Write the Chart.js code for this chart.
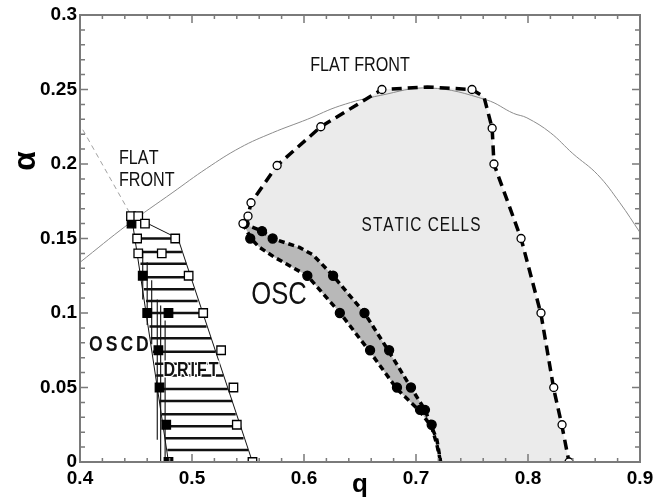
<!DOCTYPE html>
<html>
<head>
<meta charset="utf-8"/>
<title>q - alpha diagram</title>
<style>
    html, body { margin: 0; padding: 0; background: #fff; }
    #chart { display: block; }
</style>
<script src="https://cdn.jsdelivr.net/npm/chart.js@4.4.1/dist/chart.umd.min.js"></script>
</head>
<body>
<canvas id="chart" width="669" height="498"></canvas>
<script>
    // axis ticks
    const xTicks = [0.4, 0.5, 0.6, 0.7, 0.8, 0.9];
    const yTicks = [0, 0.05, 0.1, 0.15, 0.2, 0.25, 0.3];

    // thin curve: flat front limit
    const frontQ = [0.400, 0.442, 0.483, 0.513, 0.543, 0.572, 0.603, 0.632, 0.668, 0.712, 0.763, 0.787, 0.799, 0.820, 0.840, 0.862, 0.882, 0.900];
    const frontA = [0.134, 0.159, 0.181, 0.197, 0.211, 0.221, 0.230, 0.239, 0.246, 0.251, 0.243, 0.234, 0.231, 0.221, 0.207, 0.193, 0.174, 0.154];

    // thin dashed line, upper left
    const leftDashQ = [0.4025, 0.446];
    const leftDashA = [0.223, 0.165];

    // static cells boundary (thick dashed)
    const staticQ = [0.5455, 0.550, 0.5527, 0.576, 0.615, 0.6696, 0.710, 0.750, 0.7607, 0.768, 0.7696, 0.7938, 0.8116, 0.823, 0.8304, 0.8366];
    const staticA = [0.160, 0.165, 0.174, 0.199, 0.225, 0.250, 0.2517, 0.250, 0.245, 0.224, 0.200, 0.150, 0.0993, 0.049, 0.024, 0.0];

    // open circles
    const circleQ = [0.5455, 0.550, 0.5527, 0.576, 0.615, 0.6696, 0.750, 0.768, 0.7696, 0.7938, 0.8116, 0.823, 0.8304, 0.8366];
    const circleA = [0.160, 0.165, 0.174, 0.199, 0.225, 0.250, 0.250, 0.224, 0.200, 0.150, 0.100, 0.050, 0.025, 0.0];

    // OSC band edges
    const oscUpQ = [0.5455, 0.5625, 0.572, 0.596, 0.608, 0.626, 0.654, 0.676, 0.6955, 0.708, 0.7187, 0.722];
    const oscUpA = [0.160, 0.155, 0.150, 0.144, 0.139, 0.125, 0.100, 0.074, 0.050, 0.035, 0.0148, 0.0];
    const oscLoQ = [0.5455, 0.5527, 0.5598, 0.5732, 0.603, 0.633, 0.659, 0.683, 0.7036, 0.714, 0.7187, 0.722];
    const oscLoA = [0.160, 0.150, 0.1443, 0.1376, 0.125, 0.0993, 0.0738, 0.049, 0.034, 0.0235, 0.0114, 0.0];

    // filled circles
    const dotQ = [0.547, 0.552, 0.5625, 0.572, 0.603, 0.626, 0.632, 0.654, 0.659, 0.676, 0.683, 0.6955, 0.7036, 0.708, 0.714];
    const dotA = [0.160, 0.150, 0.155, 0.150, 0.125, 0.125, 0.100, 0.100, 0.075, 0.075, 0.050, 0.050, 0.035, 0.035, 0.025];

    // squares
    const sqOpenQ = [0.4455, 0.452, 0.458, 0.485, 0.451, 0.473, 0.452, 0.497, 0.510, 0.526, 0.537, 0.540, 0.554];
    const sqOpenA = [0.165, 0.165, 0.160, 0.150, 0.150, 0.140, 0.140, 0.125, 0.100, 0.075, 0.050, 0.025, 0.0];
    const sqFillQ = [0.446, 0.456, 0.460, 0.479, 0.470, 0.471, 0.477, 0.479];
    const sqFillA = [0.160, 0.125, 0.100, 0.100, 0.075, 0.050, 0.025, 0.0];

    // drift region: horizontal hatch rows
    const hatchA = [0.150, 0.141, 0.133, 0.124, 0.116, 0.108, 0.100, 0.091, 0.083, 0.074, 0.066, 0.058, 0.049, 0.041, 0.032, 0.024, 0.016, 0.008];
    const hatchL = [0.451, 0.453, 0.454, 0.455, 0.457, 0.459, 0.460, 0.462, 0.463, 0.465, 0.467, 0.468, 0.470, 0.471, 0.473, 0.474, 0.476, 0.478];
    const hatchR = [0.4875, 0.491, 0.495, 0.498, 0.502, 0.505, 0.509, 0.513, 0.517, 0.521, 0.524, 0.528, 0.532, 0.536, 0.539, 0.543, 0.546, 0.550];

    // OSCD band: vertical hatch
    const vHatchQ = [0.456, 0.460, 0.464, 0.469, 0.472, 0.476];
    const vHatchTop = [0.142, 0.134, 0.122, 0.109, 0.105, 0.095];
    const vHatchBot = [0.109, 0.092, 0.079, 0.015, 0.0, 0.0];

    // drift region borders
    const driftLeftQ = [0.446, 0.479];
    const driftLeftA = [0.165, 0.0];
    const driftRightQ = [0.458, 0.4875, 0.554];
    const driftRightA = [0.161, 0.150, 0.0];

    const notes = [
        { text: 'FLAT FRONT', q: 0.650, a: 0.2664, font: '21px "Liberation Sans"', sx: 0.77, sp: 0, align: 'center' },
        { text: 'FLAT', q: 0.4348, a: 0.2040, font: '21px "Liberation Sans"', sx: 0.77, sp: 0, align: 'left' },
        { text: 'FRONT', q: 0.4348, a: 0.1893, font: '21px "Liberation Sans"', sx: 0.77, sp: 0, align: 'left' },
        { text: 'STATIC CELLS', q: 0.7045, a: 0.1584, font: '20px "Liberation Sans"', sx: 0.77, sp: 1, align: 'center' },
        { text: 'OSC', q: 0.5777, a: 0.1120, font: '32px "Liberation Sans"', sx: 0.8, sp: 0, align: 'center' },
        { text: 'OSCD', q: 0.4080, a: 0.0789, font: 'bold 22px "Liberation Sans"', sx: 0.8, sp: 3, align: 'left' },
        { text: 'DRIFT', q: 0.4991, a: 0.0614, font: 'bold 20px "Liberation Sans"', sx: 0.8, sp: 2, align: 'center', halo: true },
    ];

    const pts = (qs, as) => qs.map((q, i) => ({ x: q, y: as[i] }));

    const staticFill = pts(staticQ, staticA).concat(pts(oscUpQ, oscUpA).reverse());
    const oscFill = pts(oscUpQ, oscUpA).concat(pts(oscLoQ, oscLoA).reverse());

    const hatchPts = [];
    hatchA.forEach((a, i) => {
        hatchPts.push({ x: hatchL[i], y: a }, { x: hatchR[i], y: a }, { x: null, y: null });
    });
    const vHatchPts = [];
    vHatchQ.forEach((q, i) => {
        vHatchPts.push({ x: q, y: vHatchTop[i] }, { x: q, y: vHatchBot[i] }, { x: null, y: null });
    });

    function lineSet(data, color, width, dash, order) {
        return {
            data: data, showLine: true, borderColor: color, borderWidth: width,
            borderDash: dash, pointRadius: 0, fill: false, order: order, tension: 0,
        };
    }

    function markerSet(data, style, radius, bg, order) {
        return {
            data: data, showLine: false, pointStyle: style, pointRadius: radius,
            pointBackgroundColor: bg, pointBorderColor: '#000', pointBorderWidth: 1.3, order: order,
        };
    }

    const datasets = [
        { data: staticFill, showLine: true, fill: 'shape', backgroundColor: '#ebebeb', borderWidth: 0, pointRadius: 0, order: 20 },
        { data: oscFill, showLine: true, fill: 'shape', backgroundColor: '#b8b8b8', borderWidth: 0, pointRadius: 0, order: 19 },
        lineSet(hatchPts, '#111', 2.5, [], 10),
        lineSet(vHatchPts, '#222', 1.2, [], 10),
        Object.assign(lineSet(pts(frontQ, frontA), '#8c8c8c', 1, [], 9), { tension: 0.4 }),
        lineSet(pts(leftDashQ, leftDashA), '#a0a0a0', 1, [5, 4], 9),
        lineSet(pts(driftLeftQ, driftLeftA), '#111', 1, [], 8),
        lineSet(pts(driftRightQ, driftRightA), '#111', 1, [], 8),
        lineSet(pts(staticQ, staticA), '#000', 3.5, [10, 6], 5),
        lineSet(pts(oscUpQ, oscUpA), '#000', 3.5, [6, 4], 5),
        lineSet(pts(oscLoQ, oscLoA), '#000', 3.5, [6, 4], 5),
        markerSet(pts(circleQ, circleA), 'circle', 4, '#fff', 1),
        markerSet(pts(dotQ, dotA), 'circle', 4.5, '#000', 1),
        markerSet(pts(sqOpenQ, sqOpenA), 'rect', 6, '#fff', 1),
        markerSet(pts(sqFillQ, sqFillA), 'rect', 6, '#000', 1),
    ];

    function drawNote(ctx, n, x, y) {
        ctx.save();
        ctx.font = n.font;
        ctx.textBaseline = 'middle';
        ctx.textAlign = 'left';
        ctx.fillStyle = '#111';
        ctx.strokeStyle = '#fff';
        ctx.lineWidth = 3;
        ctx.lineJoin = 'round';
        const chars = [...n.text];
        const widths = chars.map(c => ctx.measureText(c).width * n.sx);
        const total = widths.reduce((s, w) => s + w, 0) + n.sp * (chars.length - 1);
        let cx = n.align === 'left' ? x : x - total / 2;
        chars.forEach((c, i) => {
            ctx.save();
            ctx.translate(cx, y);
            ctx.scale(n.sx, 1);
            if (n.halo) ctx.strokeText(c, 0, 0);
            ctx.fillText(c, 0, 0);
            ctx.restore();
            cx += widths[i] + n.sp;
        });
        ctx.restore();
    }

    const framePlugin = {
        id: 'frame',
        afterDatasetsDraw(chart) {
            const { ctx, chartArea: a, scales: { x, y } } = chart;
            ctx.save();
            ctx.strokeStyle = '#7a7a7a';
            ctx.lineWidth = 1.5;
            ctx.beginPath();
            for (let i = 0; i <= 25; i++) {
                const px = x.getPixelForValue(0.4 + i * 0.02);
                const len = i % 5 === 0 ? 8 : 4;
                ctx.moveTo(px, a.bottom); ctx.lineTo(px, a.bottom - len);
                ctx.moveTo(px, a.top); ctx.lineTo(px, a.top + len);
            }
            for (let i = 0; i <= 30; i++) {
                const py = y.getPixelForValue(i * 0.01);
                const len = i % 5 === 0 ? 8 : 5;
                ctx.moveTo(a.left, py); ctx.lineTo(a.left + len, py);
                ctx.moveTo(a.right, py); ctx.lineTo(a.right - len, py);
            }
            ctx.stroke();
            ctx.lineWidth = 2;
            ctx.strokeRect(a.left, a.top, a.right - a.left, a.bottom - a.top);
            ctx.restore();
        },
        afterDraw(chart) {
            const { ctx, scales: { x, y } } = chart;
            notes.forEach(n => drawNote(ctx, n, x.getPixelForValue(n.q), y.getPixelForValue(n.a)));
            // y axis title
            ctx.save();
            ctx.translate(26, 161);
            ctx.rotate(-Math.PI / 2);
            ctx.font = 'bold 32px "Liberation Sans"';
            ctx.textAlign = 'center';
            ctx.textBaseline = 'middle';
            ctx.fillStyle = '#000';
            ctx.fillText('α', 0, 0);
            ctx.restore();
        }
    };

    const tickFont = { family: '"Liberation Sans"', size: 19, weight: 'bold' };

    new Chart(document.getElementById('chart'), {
        type: 'scatter',
        data: { datasets: datasets },
        options: {
            responsive: false,
            animation: false,
            layout: { padding: { top: 15, right: 29, left: 0, bottom: 0 } },
            plugins: { legend: { display: false }, tooltip: { enabled: false } },
            scales: {
                x: {
                    type: 'linear', min: 0.4, max: 0.9,
                    grid: { display: false, drawTicks: false },
                    border: { display: false },
                    afterBuildTicks: s => { s.ticks = xTicks.map(v => ({ value: v })); },
                    afterFit: s => { s.height = 36; },
                    ticks: { font: tickFont, color: '#000', padding: 5, maxRotation: 0, callback: v => String(v) },
                    title: { display: true, text: 'q', color: '#000', padding: 0, font: { family: '"Liberation Sans"', size: 26, weight: 'bold', lineHeight: 1 } },
                },
                y: {
                    type: 'linear', min: 0, max: 0.3,
                    grid: { display: false, drawTicks: false },
                    border: { display: false },
                    afterBuildTicks: s => { s.ticks = yTicks.map(v => ({ value: v })); },
                    afterFit: s => { s.width = 80; },
                    ticks: { font: tickFont, color: '#000', padding: 3, callback: v => String(v) },
                },
            },
        },
        plugins: [framePlugin],
    });
</script>
</body>
</html>
